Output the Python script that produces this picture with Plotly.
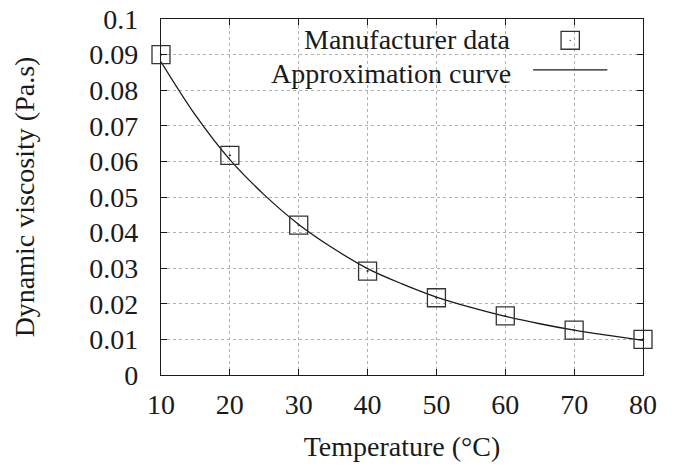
import plotly.graph_objects as go

# Manufacturer data
temp_data = [10, 20, 30, 40, 50, 60, 70, 80]
visc_data = [0.090, 0.0617, 0.0421, 0.0292, 0.0217, 0.0166, 0.0126, 0.0100]

# Approximation curve
temp_curve = [10, 15, 20, 25, 30, 35, 40, 45, 50, 55, 60, 65, 70, 75, 80]
visc_curve = [0.0880, 0.0730, 0.0605, 0.0506, 0.0423, 0.0356, 0.0299, 0.0256,
              0.0219, 0.0190, 0.0165, 0.0144, 0.0126, 0.0111, 0.0097]

x_ticks = [10, 20, 30, 40, 50, 60, 70, 80]
y_ticks = [0, 0.01, 0.02, 0.03, 0.04, 0.05, 0.06, 0.07, 0.08, 0.09, 0.1]
y_tick_text = ["0", "0.01", "0.02", "0.03", "0.04", "0.05", "0.06", "0.07", "0.08", "0.09", "0.1"]

legend_labels = ["Manufacturer data", "Approximation curve"]

FONT = "Liberation Serif"
FS = 28
INK = "#1a1a1a"

fig = go.Figure()
fig.add_trace(go.Scatter(
    x=temp_curve, y=visc_curve, mode="lines", line=dict(color=INK, width=1.3, shape="spline"),
    name=legend_labels[1], showlegend=False, cliponaxis=False))
fig.add_trace(go.Scatter(
    x=temp_data, y=visc_data, mode="markers",
    marker=dict(symbol="square-open-dot", size=18, color="#333333", line=dict(width=1.3, color="#333333")),
    name=legend_labels[0], showlegend=False, cliponaxis=False))

axis_common = dict(
    showline=True, linecolor=INK, linewidth=1.2, mirror="allticks",
    ticks="inside", ticklen=6, tickcolor=INK, tickwidth=1,
    showgrid=True, gridcolor="#b0b0b0", griddash="dot", gridwidth=1,
    zeroline=False, automargin=False, tickfont=dict(family=FONT, size=FS, color=INK),
)

fig.update_xaxes(range=[10, 80], tickvals=x_ticks, ticktext=[str(v) for v in x_ticks],
                 title=dict(text="Temperature (°C)", font=dict(family=FONT, size=FS, color=INK), standoff=17),
                 ticklabelstandoff=4, **axis_common)
fig.update_yaxes(range=[0, 0.1], tickvals=y_ticks, ticktext=y_tick_text,
                 title=dict(text="Dynamic viscosity (Pa.s)", font=dict(family=FONT, size=FS, color=INK), standoff=46),
                 ticklabelstandoff=16, **axis_common)

# legend box (gnuplot style: text then sample)
shapes = [
    dict(type="rect", xref="x domain", yref="y domain", x0=0.054, x1=0.958, y0=0.823, y1=0.985,
         fillcolor="white", line=dict(width=0), layer="below"),
    dict(type="rect", xref="x domain", yref="y domain", x0=0.830, x1=0.868, y0=0.915, y1=0.965,
         line=dict(color="#333333", width=1.3), layer="above"),
    dict(type="circle", xref="x domain", yref="y domain", x0=0.8475, x1=0.8505, y0=0.938, y1=0.942,
         fillcolor="#333333", line=dict(width=0), layer="above"),
    dict(type="line", xref="x domain", yref="y domain", x0=0.772, x1=0.926, y0=0.857, y1=0.857,
         line=dict(color=INK, width=1.3), layer="above"),
]
annotations = [
    dict(text=legend_labels[0], xref="x domain", yref="y domain", x=0.731, y=0.942,
         xanchor="right", yanchor="middle", showarrow=False, font=dict(family=FONT, size=FS, color=INK)),
    dict(text=legend_labels[1], xref="x domain", yref="y domain", x=0.731, y=0.848,
         xanchor="right", yanchor="middle", showarrow=False, font=dict(family=FONT, size=FS, color=INK)),
]

fig.update_layout(
    width=675, height=466, showlegend=False,
    margin=dict(l=161, r=32, t=19, b=91),
    paper_bgcolor="white", plot_bgcolor="white",
    font=dict(family=FONT, size=FS, color=INK),
    shapes=shapes, annotations=annotations,
)

fig.write_html("out.html")
